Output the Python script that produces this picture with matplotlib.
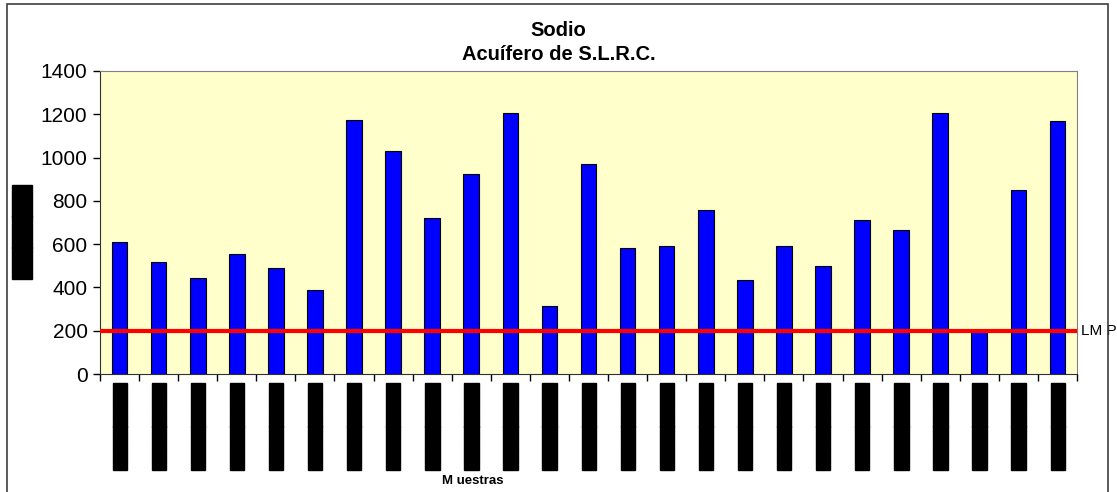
import matplotlib
matplotlib.use("Agg")
import matplotlib.pyplot as plt
import matplotlib.patheffects as pe
from matplotlib.patches import Rectangle

# data (sodium, mg/L per sample)
muestras = list(range(1, 26))
sodio = [610, 518, 444, 555, 490, 388, 1172, 1032, 721, 922, 1208,
         314, 968, 582, 591, 758, 434, 591, 499, 712, 665, 1208, 205, 848, 1170]
lmp = 200
yticks = [0, 200, 400, 600, 800, 1000, 1200, 1400]

plt.rcParams['font.family'] = ['Liberation Sans', 'DejaVu Sans']

W, H = 1117, 492
fig = plt.figure(figsize=(W / 100, H / 100), dpi=100)
ax = fig.add_axes([100 / W, 1 - 374 / H, (1077 - 100) / W, (374 - 71) / H])

# outer chart frame
fig.patches.append(Rectangle((7 / W, -0.05), (1108 - 7) / W, 1.05 - 4 / H,
                             transform=fig.transFigure, fill=False,
                             edgecolor='#404040', lw=1.2, zorder=5))

ax.set_facecolor('#FFFFCC')
x = list(range(len(muestras)))
ax.bar(x, sodio, width=0.4, color='#0000FF', edgecolor='black', lw=0.8, zorder=2)
ax.axhline(lmp, color='#FF0000', lw=3.0, zorder=3)
ax.text(1.004, lmp, 'LM P', transform=ax.get_yaxis_transform(),
        va='center', ha='left', fontsize=11)

ax.set_xlim(-0.5, len(muestras) - 0.5)
ax.set_ylim(0, 1400)
ax.set_yticks(yticks)
ax.tick_params(axis='y', labelsize=15, length=5, width=1, direction='out', pad=4)

# tick marks at category boundaries, labels (redacted) under each bar
blk = [pe.withStroke(linewidth=1.0, foreground='black', joinstyle='miter')]
ax.set_xticks([i - 0.5 for i in range(len(muestras) + 1)], minor=True)
ax.set_xticks(x)
ax.set_xticklabels(['\u2588' * 8 for _ in muestras], rotation=90,
                   fontsize=10.1, family='DejaVu Sans', va='top')
for t in ax.get_xticklabels():
    t.set_path_effects(blk)
ax.tick_params(axis='x', which='major', length=0, pad=7)
ax.tick_params(axis='x', which='minor', length=5, width=1, direction='out')

for s in ['top', 'right']:
    ax.spines[s].set_color('#808080')
ax.spines['left'].set_color('#303030')
ax.spines['bottom'].set_color('#303030')

fig.text(0.5, 1 - 30 / H, 'Sodio', ha='center', va='center',
         fontsize=14.5, fontweight='bold')
fig.text(0.5, 1 - 54 / H, 'Acuífero de S.L.R.C.', ha='center', va='center',
         fontsize=14.5, fontweight='bold')
fig.text(22 / W, 1 - 232 / H, '\u2588' * 6, rotation=90, ha='center',
         va='center', fontsize=14.5, family='DejaVu Sans', path_effects=blk)
fig.text(473 / W, 1 - 481 / H, 'M uestras', ha='center', va='center',
         fontsize=9.5, fontweight='bold')

fig.savefig('out.png', dpi=100)
